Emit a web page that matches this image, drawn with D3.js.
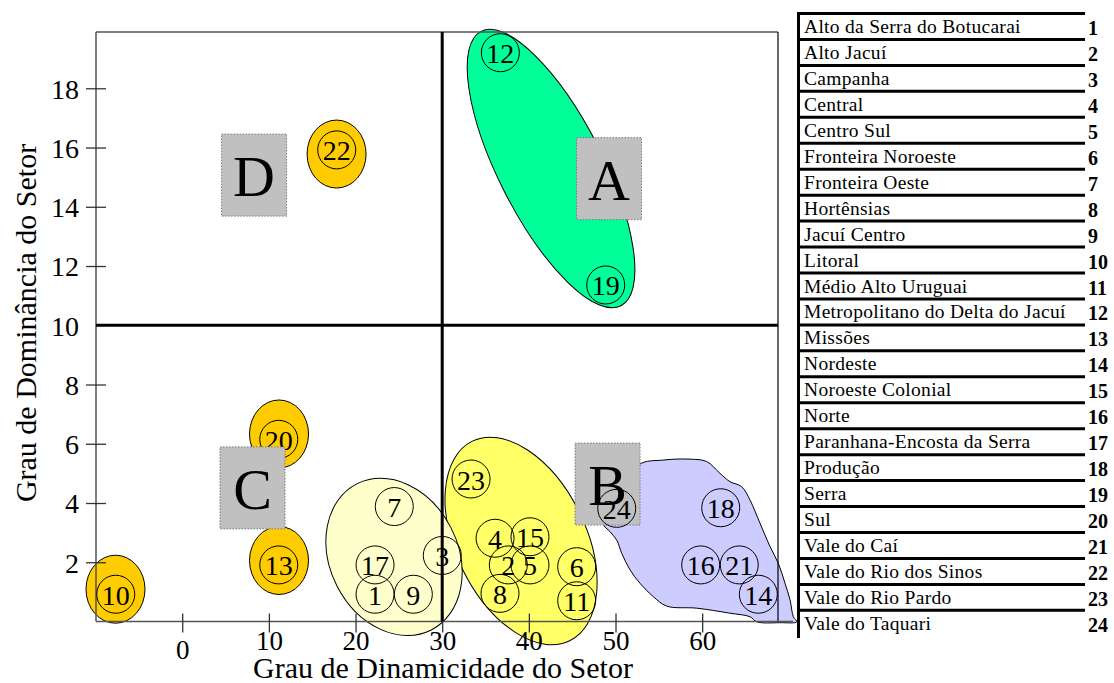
<!DOCTYPE html>
<html><head><meta charset="utf-8">
<script src="https://cdn.jsdelivr.net/npm/d3@7"></script>
<style>
body{margin:0;background:#fff}
svg{display:block}
text{font-family:"Liberation Serif","Times New Roman",Times,serif;fill:#000}
</style>
</head><body>
<svg id="chart" width="1114" height="683"></svg>
<script>
// ---------------- DATA ----------------
const regionIds = d3.range(1, 25);
const regionNames = [
  "Alto da Serra do Botucarai","Alto Jacuí","Campanha","Central","Centro Sul",
  "Fronteira Noroeste","Fronteira Oeste","Hortênsias","Jacuí Centro","Litoral",
  "Médio Alto Uruguai","Metropolitano do Delta do Jacuí","Missões","Nordeste",
  "Noroeste Colonial","Norte","Paranhana-Encosta da Serra","Produção","Serra",
  "Sul","Vale do Caí","Vale do Rio dos Sinos","Vale do Rio Pardo","Vale do Taquari"
];
// Grau de Dinamicidade do Setor (x) for regions 1..24
const dinamicidade = [22.25,37.63,30.01,36.10,40.13,45.52,24.47,36.67,26.67,-7.67,
                      45.52,36.71,11.14,66.48,40.13,59.83,22.25,62.14,48.87,11.14,
                      64.28,17.83,33.33,50.14];
// Grau de Dominância do Setor (y) for regions 1..24
const dominancia   = [0.92,1.91,2.23,2.81,1.91,1.85,3.88,0.95,0.92,0.92,
                      0.70,19.20,1.91,0.92,2.86,1.91,1.91,3.84,11.36,6.15,
                      1.91,15.92,4.81,3.82];
const xTicks = [0,10,20,30,40,50,60];
const yTicks = [2,4,6,8,10,12,14,16,18];
const quadrantLabels = ["A","B","C","D"];
const quadrantX = [49.25,49.08,8.11,8.29];
const quadrantY = [14.95,4.64,4.51,15.07];
// cluster ellipse centres (data units)
const clusterKeys = ["A","B1","C1","o22","o20","o13","o10"];
const clusterCx = [42.56,39.10,24.44,17.81,11.17,11.17,-7.70];
const clusterCy = [15.29,2.72,2.18,15.78,6.33,2.06,1.09];
// blob outline (cluster B2) in data units
const blobX = [52.63,55.52,58.60,60.52,62.06,63.21,64.56,65.52,66.67,67.83,68.79,69.56,70.14,70.52,70.91,
               68.98,66.29,65.52,63.21,59.37,55.91,54.36,52.83,51.68,50.72,50.14,49.37,48.59];
const blobY = [5.28,5.45,5.48,5.40,5.00,4.72,4.55,4.10,3.32,2.53,1.96,1.29,0.73,0.16,-0.01,
               -0.04,-0.01,0.16,0.28,0.45,0.52,0.84,1.29,1.74,2.30,2.75,3.03,3.32];

// ---------------- STYLES / LAYOUT ----------------
const clusterStyle = {
  A:  {fill:"#00FF99", rx:52, ry:154, rot:-27},
  B1: {fill:"#FFFF66", rx:65, ry:111, rot:-26},
  C1: {fill:"#FFFFCC", rx:64, ry:82,  rot:-27},
  o22:{fill:"#FFCC00", rx:29.5, ry:34, rot:0},
  o20:{fill:"#FFCC00", rx:29.5, ry:34, rot:0},
  o13:{fill:"#FFCC00", rx:29.5, ry:34, rot:0},
  o10:{fill:"#FFCC00", rx:29.5, ry:34, rot:0}
};
const L = 96, R = 778, T = 32, B = 621.5;
const svg = d3.select("#chart");
const x = d3.scaleLinear().domain([-9.95, 68.75]).range([L, R]);
const y = d3.scaleLinear().domain([0, 19.9]).range([B, T]);

svg.append("rect").attr("width",1114).attr("height",683).attr("fill","#fff");

// clusters
const gCl = svg.append("g");
clusterKeys.forEach((k,i) => {
  const s = clusterStyle[k];
  gCl.append("ellipse")
    .attr("cx",0).attr("cy",0).attr("rx",s.rx).attr("ry",s.ry)
    .attr("transform",`translate(${x(clusterCx[i])},${y(clusterCy[i])}) rotate(${s.rot})`)
    .attr("fill",s.fill).attr("stroke","#000").attr("stroke-width",1);
});
const blobPts = blobX.map((v,i)=>[v, blobY[i]]);
gCl.append("path")
  .attr("d", d3.line().x(d=>x(d[0])).y(d=>y(d[1])).curve(d3.curveCatmullRomClosed.alpha(0.5))(blobPts))
  .attr("fill","#CCCCFF").attr("stroke","#000").attr("stroke-width",1);

// quadrant boxes
const boxW = 65, boxH = 82;
function drawBox(i){
  const cx = x(quadrantX[i]), cy = y(quadrantY[i]);
  svg.append("rect").attr("x",cx-boxW/2).attr("y",cy-boxH/2).attr("width",boxW).attr("height",boxH)
    .attr("fill","#C0C0C0").attr("stroke","#7a7a7a").attr("stroke-width",1).attr("stroke-dasharray","1.5,1.5");
}
drawBox(1); // B box sits under the points

// frame
const frame = svg.append("g");
frame.append("line").attr("x1",L).attr("x2",R).attr("y1",T).attr("y2",T).attr("stroke","#555").attr("stroke-width",1.5);
frame.append("line").attr("x1",R).attr("x2",R).attr("y1",T).attr("y2",B).attr("stroke","#000").attr("stroke-width",1.2);
frame.append("line").attr("x1",L).attr("x2",L).attr("y1",T).attr("y2",B).attr("stroke","#555").attr("stroke-width",1.5);
frame.append("line").attr("x1",L).attr("x2",793).attr("y1",B).attr("y2",B).attr("stroke","#555").attr("stroke-width",1.5);

// axes
const xAx = svg.append("g").attr("transform",`translate(0,${B})`)
  .call(d3.axisBottom(x).tickValues(xTicks).tickSize(0));
xAx.select(".domain").remove();
xAx.selectAll(".tick line").attr("y1",-8).attr("y2",11).attr("stroke","#333").attr("stroke-width",1.3);
xAx.selectAll(".tick text").attr("y", d => d===0 ? 37 : 28).attr("dy",null)
  .style("font-size","27px").style("font-family","Liberation Serif").attr("fill","#000");

const yAx = svg.append("g").attr("transform",`translate(${L},0)`)
  .call(d3.axisLeft(y).tickValues(yTicks).tickSize(0));
yAx.select(".domain").remove();
yAx.selectAll(".tick line").attr("x1",-10).attr("x2",10).attr("stroke","#333").attr("stroke-width",1.3)
  .attr("display", d => d===10 ? "none" : null);
yAx.selectAll(".tick text").attr("x",-17).attr("dy","0.35em")
  .style("font-size","28px").style("font-family","Liberation Serif").attr("fill","#000");

svg.append("text").attr("x",443).attr("y",678).attr("text-anchor","middle")
  .style("font-size","30px").text("Grau de Dinamicidade do Setor");
svg.append("text").attr("transform","translate(36,323) rotate(-90)").attr("text-anchor","middle")
  .style("font-size","30px").text("Grau de Dominância do Setor");

// quadrant dividing lines
svg.append("line").attr("x1",x(30)).attr("x2",x(30)).attr("y1",T).attr("y2",B).attr("stroke","#000").attr("stroke-width",3);
svg.append("line").attr("x1",L).attr("x2",R).attr("y1",y(10)).attr("y2",y(10)).attr("stroke","#000").attr("stroke-width",3);

// points
const gP = svg.append("g");
regionIds.forEach((id,i) => {
  const px = x(dinamicidade[i]), py = y(dominancia[i]);
  gP.append("circle").attr("cx",px).attr("cy",py).attr("r",19)
    .attr("fill","none").attr("stroke","#000").attr("stroke-width",1);
});
regionIds.forEach((id,i) => {
  const px = x(dinamicidade[i]), py = y(dominancia[i]);
  gP.append("text").attr("x",px).attr("y",py+10.5).attr("text-anchor","middle")
    .style("font-size","28px").text(id);
});

// remaining boxes on top
[0,2,3].forEach(drawBox);
quadrantLabels.forEach((lab,i) => {
  svg.append("text").attr("x",x(quadrantX[i])).attr("y",y(quadrantY[i])+21).attr("text-anchor","middle")
    .style("font-size","58px").text(lab);
});

// legend table
const rowY = d3.scaleLinear().domain([0,24]).range([13.5, 13.5 + 24*25.95]);
const tbl = svg.append("g");
tbl.append("line").attr("x1",798.5).attr("x2",798.5).attr("y1",12).attr("y2",638).attr("stroke","#000").attr("stroke-width",3);
regionIds.forEach((id,i) => {
  tbl.append("line").attr("x1",797).attr("x2",1085).attr("y1",rowY(i)).attr("y2",rowY(i))
    .attr("stroke","#000").attr("stroke-width",3);
  tbl.append("text").attr("x",804).attr("y",rowY(i)+19.5)
    .style("font-size","19.5px").style("letter-spacing","0.3px").text(regionNames[i]);
  tbl.append("text").attr("x",1088).attr("y",rowY(i)+21.5)
    .style("font-size","20px").style("font-weight","bold").text(id);
});
</script>
</body></html>
